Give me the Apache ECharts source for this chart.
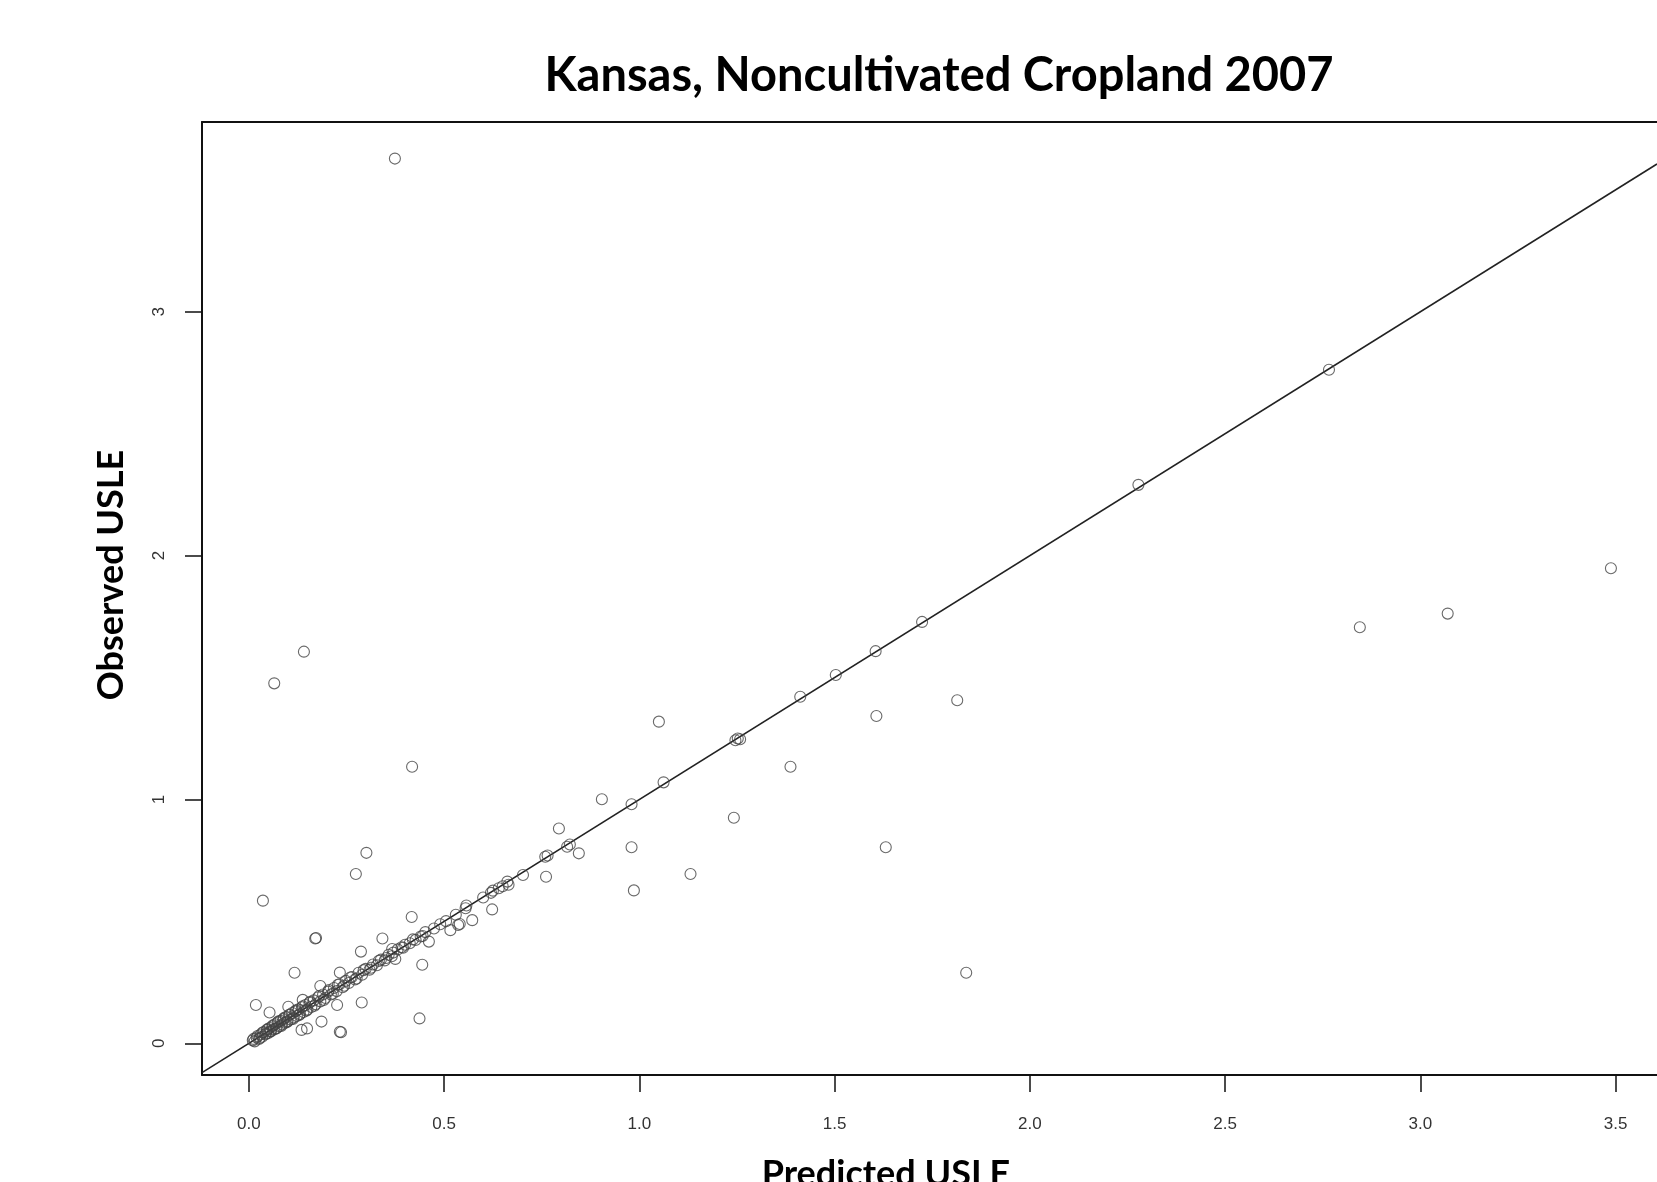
<!DOCTYPE html>
<html>
<head>
<meta charset="utf-8">
<title>Kansas, Noncultivated Cropland 2007</title>
<script src="https://cdn.jsdelivr.net/npm/echarts@6/dist/echarts.min.js"></script>
<style>
  html, body { margin: 0; padding: 0; background: #fff; }
  #main { width: 1657px; height: 1182px; }
</style>
</head>
<body>
<div id="main"></div>
<script>
// Predicted vs observed USLE, one entry per sample
var predicted = [
  0.010, 0.015, 0.020, 0.026, 0.030, 0.034, 0.038, 0.042, 0.046, 0.050,
  0.053, 0.057, 0.060, 0.064, 0.067, 0.071, 0.074, 0.078, 0.081, 0.085,
  0.088, 0.092, 0.095, 0.099, 0.103, 0.107, 0.111, 0.115, 0.119, 0.123,
  0.127, 0.131, 0.136, 0.140, 0.145, 0.150, 0.155, 0.160, 0.166, 0.171,
  0.177, 0.183, 0.190, 0.196, 0.203, 0.210, 0.218, 0.225, 0.232, 0.240,
  0.248, 0.256, 0.264, 0.272, 0.281, 0.290, 0.299, 0.309, 0.318, 0.328,
  0.338, 0.348, 0.358, 0.366, 0.375, 0.381, 0.391, 0.400, 0.412, 0.427,
  0.440, 0.452, 0.474, 0.490, 0.505, 0.536, 0.540, 0.555, 0.620, 0.640,
  0.662, 0.665, 0.702, 0.759, 0.765, 0.815, 0.822, 1.246, 1.252, 1.258,
  0.374, 0.141, 0.065, 0.418, 0.036, 0.274, 0.301, 0.417, 0.170, 0.172,
  0.342, 0.287, 0.117, 0.233, 0.018, 0.053, 0.101, 0.138, 0.183, 0.226,
  0.289, 0.233, 0.236, 0.437, 0.444, 0.367, 0.461, 0.516, 0.572, 0.557,
  0.623, 0.625, 0.761, 0.845, 0.794, 0.904, 0.980, 1.050, 1.062, 0.980,
  0.986, 1.131, 1.242, 1.387, 1.412, 1.503, 1.605, 1.607, 1.631, 1.724,
  1.814, 1.837, 2.278, 2.766, 2.845, 3.070, 3.488, 0.135, 0.149, 0.186,
  0.012, 0.022, 0.028, 0.035, 0.044, 0.048, 0.055, 0.062, 0.069, 0.076,
  0.083, 0.090, 0.097, 0.105, 0.113, 0.121, 0.129, 0.138, 0.147, 0.157,
  0.168, 0.180, 0.192, 0.205, 0.215, 0.228, 0.244, 0.260, 0.276, 0.294,
  0.313, 0.333, 0.352, 0.370, 0.395, 0.420, 0.445, 0.530, 0.600, 0.650
];
var observed = [
  0.012, 0.008, 0.024, 0.018, 0.036, 0.027, 0.046, 0.036, 0.055, 0.042,
  0.063, 0.050, 0.070, 0.057, 0.078, 0.062, 0.086, 0.070, 0.092, 0.077,
  0.099, 0.084, 0.108, 0.090, 0.116, 0.098, 0.124, 0.106, 0.131, 0.112,
  0.139, 0.120, 0.148, 0.128, 0.157, 0.138, 0.166, 0.149, 0.176, 0.160,
  0.188, 0.172, 0.200, 0.186, 0.212, 0.200, 0.227, 0.214, 0.242, 0.230,
  0.256, 0.247, 0.272, 0.262, 0.289, 0.281, 0.305, 0.302, 0.323, 0.320,
  0.343, 0.340, 0.363, 0.357, 0.346, 0.385, 0.394, 0.404, 0.410, 0.424,
  0.438, 0.456, 0.471, 0.488, 0.501, 0.485, 0.489, 0.554, 0.617, 0.636,
  0.663, 0.650, 0.690, 0.765, 0.770, 0.806, 0.815, 1.243, 1.250, 1.247,
  3.628, 1.606, 1.476, 1.134, 0.585, 0.694, 0.781, 0.518, 0.430, 0.432,
  0.430, 0.376, 0.289, 0.290, 0.157, 0.126, 0.150, 0.178, 0.235, 0.157,
  0.167, 0.047, 0.045, 0.102, 0.322, 0.387, 0.417, 0.464, 0.505, 0.565,
  0.549, 0.626, 0.683, 0.779, 0.881, 1.001, 0.980, 1.319, 1.070, 0.804,
  0.627, 0.694, 0.925, 1.134, 1.421, 1.510, 1.608, 1.342, 0.804, 1.728,
  1.407, 0.289, 2.290, 2.762, 1.706, 1.762, 1.948, 0.055, 0.061, 0.089,
  0.018, 0.030, 0.022, 0.044, 0.040, 0.058, 0.049, 0.074, 0.060, 0.090,
  0.071, 0.104, 0.086, 0.118, 0.100, 0.135, 0.116, 0.152, 0.134, 0.170,
  0.154, 0.194, 0.178, 0.218, 0.203, 0.240, 0.236, 0.270, 0.266, 0.300,
  0.310, 0.338, 0.350, 0.372, 0.392, 0.426, 0.440, 0.527, 0.598, 0.644
];

var xTicks = [0, 0.5, 1, 1.5, 2, 2.5, 3, 3.5];
var yTicks = [0, 1, 2, 3];

// plot box runs past the right edge of the picture, so max is where it gets cut
var xMin = -0.12, xMax = 3.606;
var yMin = -0.13, yMax = 3.778;

var points = predicted.map(function (p, i) { return [p, observed[i]]; });

var myChart = echarts.init(document.getElementById('main'));

var boxLine = { show: true, onZero: false, lineStyle: { color: '#111', width: 2 } };

myChart.setOption({
  animation: false,
  backgroundColor: '#fff',
  title: {
    text: 'Kansas, Noncultivated Cropland 2007',
    left: 934,
    top: 47,
    textAlign: 'center',
    textStyle: { fontFamily: 'Lato', fontWeight: 'bold', fontSize: 47, color: '#000' }
  },
  grid: { left: 202, top: 122, bottom: 107, right: 0 },
  xAxis: [
    {
      type: 'value', min: xMin, max: xMax,
      axisLine: boxLine,
      splitLine: { show: false },
      axisTick: { show: true, length: 17, customValues: xTicks, lineStyle: { color: '#111', width: 1.5 } },
      axisLabel: {
        customValues: xTicks, margin: 41,
        fontFamily: 'Liberation Sans', fontSize: 17, color: '#333',
        formatter: function (v) { return v.toFixed(1); }
      }
    },
    {
      // top edge of the box
      type: 'value', position: 'top', min: xMin, max: xMax,
      axisLine: boxLine,
      axisTick: { show: false },
      axisLabel: { show: false },
      splitLine: { show: false }
    }
  ],
  yAxis: {
    type: 'value', min: yMin, max: yMax,
    axisLine: boxLine,
    splitLine: { show: false },
    axisTick: { show: true, length: 17, customValues: yTicks, lineStyle: { color: '#111', width: 1.5 } },
    axisLabel: {
      customValues: yTicks, margin: 34, rotate: 90,
      fontFamily: 'Liberation Sans', fontSize: 17, color: '#333'
    }
  },
  graphic: [
    {
      type: 'text', x: 886, y: 1174,
      style: { text: 'Predicted USLE', fontFamily: 'Lato', fontWeight: 'bold', fontSize: 36,
               fill: '#000', textAlign: 'center', textVerticalAlign: 'middle' }
    },
    {
      type: 'text', x: 111, y: 575, rotation: Math.PI / 2,
      style: { text: 'Observed USLE', fontFamily: 'Lato', fontWeight: 'bold', fontSize: 36,
               fill: '#000', textAlign: 'center', textVerticalAlign: 'middle' }
    }
  ],
  series: [
    {
      type: 'line',
      data: [[xMin, xMin], [xMax, xMax]],
      symbol: 'none',
      clip: true,
      lineStyle: { color: '#222', width: 1.6 },
      z: 2
    },
    {
      type: 'scatter',
      data: points,
      symbol: 'circle',
      symbolSize: 11,
      itemStyle: { color: 'transparent', borderColor: '#444', borderWidth: 1.1 },
      z: 3
    }
  ]
});
</script>
</body>
</html>
